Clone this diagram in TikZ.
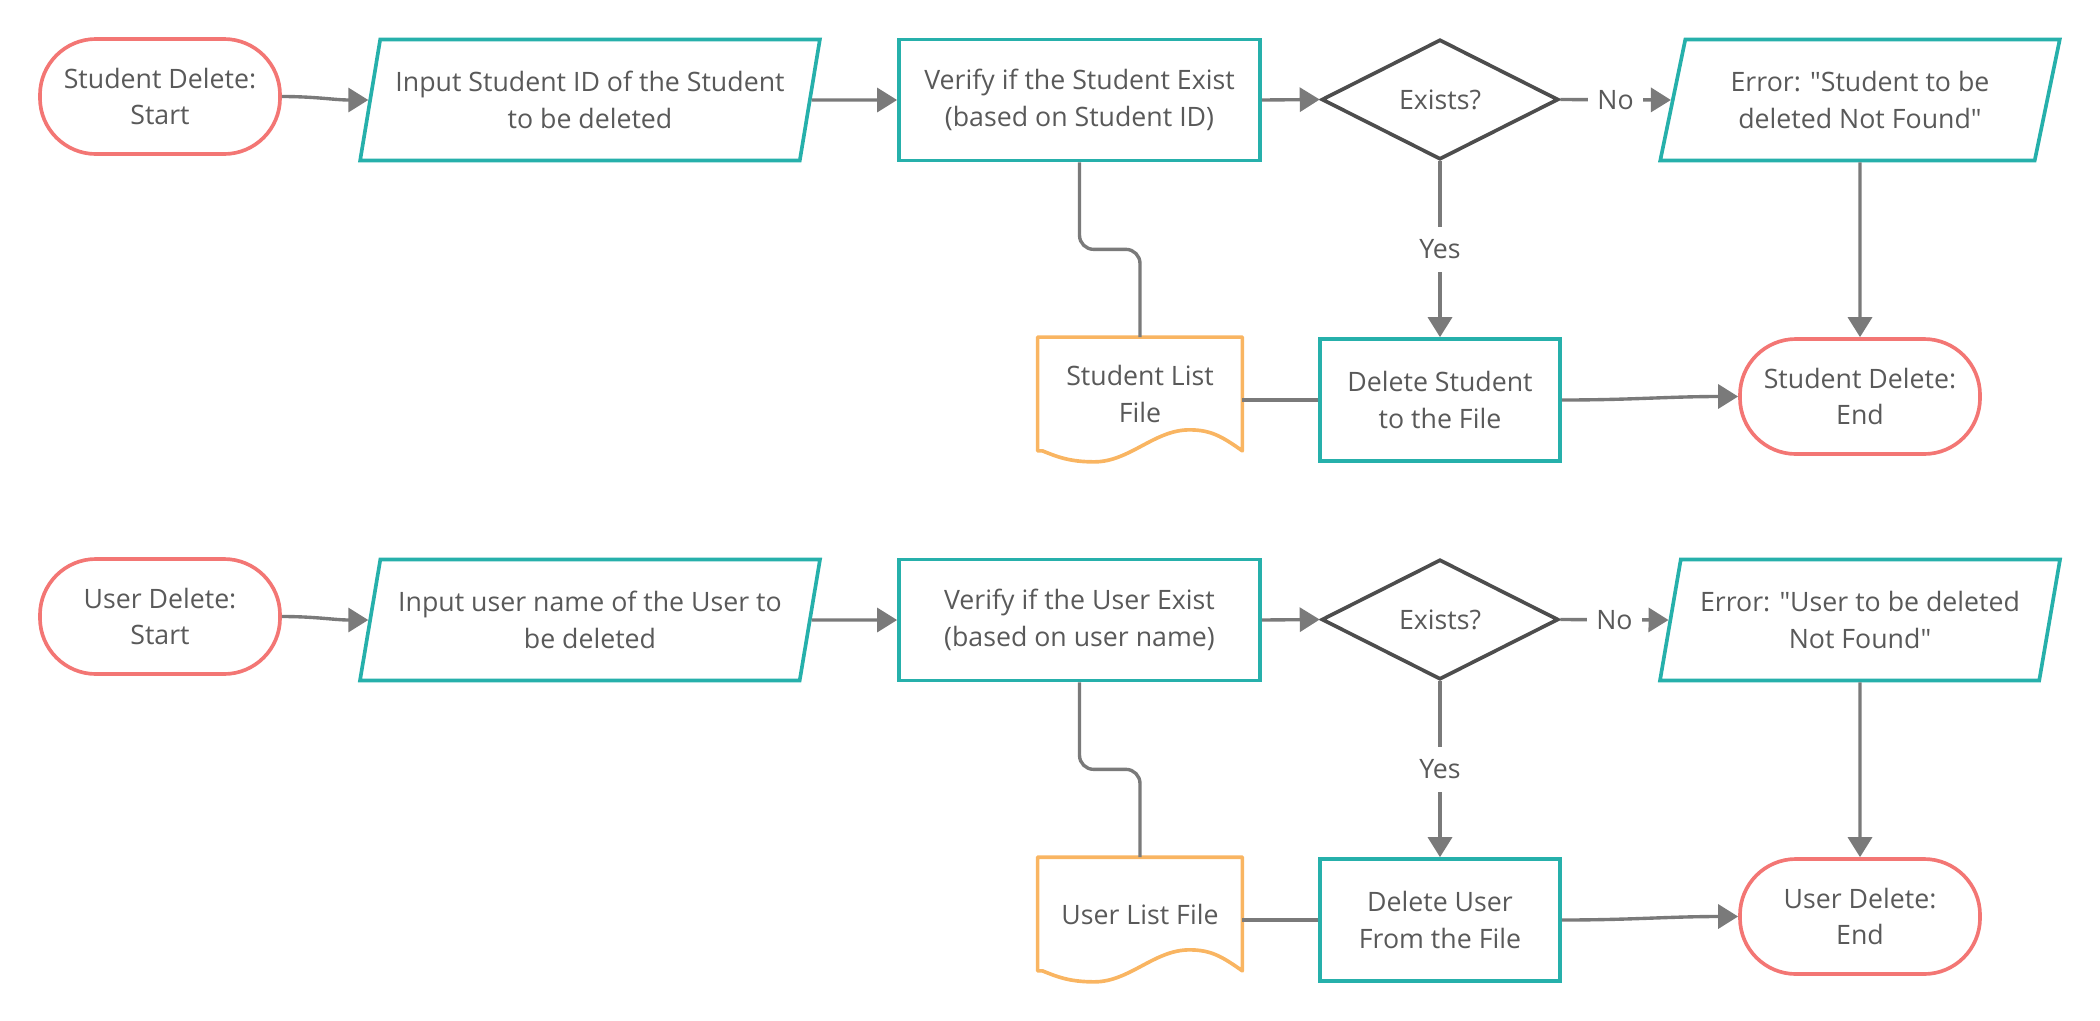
\documentclass[tikz,border=0pt]{standalone}
\usepackage{fontspec}
\setmainfont{Open Sans}[Ligatures=TeXOff]
\usetikzlibrary{shapes.geometric,arrows.meta}

\definecolor{boxteal}{HTML}{26B0AB}
\definecolor{termred}{HTML}{F37674}
\definecolor{docorange}{HTML}{F9B562}
\definecolor{diagray}{HTML}{4D4D4D}
\definecolor{linegray}{HTML}{7A7A7A}
\definecolor{textgray}{HTML}{595959}

\tikzset{
    base/.style={font=\fontsize{9.5}{13}\selectfont, text=textgray, align=center, line width=1.3pt, inner sep=0pt},
    term/.style={base, draw=termred, rectangle, rounded corners=0.7cm, minimum width=3cm, minimum height=1.4375cm},
    proc/.style={base, draw=boxteal, rectangle, minimum height=1.5125cm},
    io/.style={base, draw=boxteal, trapezium, trapezium left angle=72, trapezium right angle=108,
        trapezium stretches=true, minimum height=1.5125cm},
    decide/.style={base, draw=diagray, diamond, minimum width=2.96cm, minimum height=1.5cm},
    doc/.style={base, minimum width=2.5125cm, minimum height=1.375cm},
    docline/.style={draw=docorange, line width=1.3pt, line join=round},
    link/.style={draw=linegray, line width=1.2pt},
    flow/.style={link, -{Triangle[length=2.5mm,width=3mm]}},
    lbl/.style={font=\fontsize{9.5}{13}\selectfont, text=textgray, fill=white, inner xsep=1.2mm, inner ysep=1.6mm}
}

\begin{document}
\begin{tikzpicture}[x=0.0125cm, y=-0.0125cm]
    \useasboundingbox (0,0) rectangle (2100,1020);
    % Student delete nodes
    \node[term] (start1) at (160,96.5) {Student Delete:\\Start};
    \node[io, minimum width=5.75cm] (input1) at (590,100) {Input Student ID of the Student\\to be deleted};
    \node[proc, minimum width=4.5125cm] (verify1) at (1079.5,100) {Verify if the Student Exist\\(based on Student ID)};
    \node[decide] (exists1) at (1440,99.5) {Exists?};
    \node[io, minimum width=5cm] (error1) at (1860,100) {Error: "Student to be\\deleted Not Found"};
    \node[doc] (list1) at (1140,394) {Student List\\File};
    \node[proc, minimum width=3cm, minimum height=1.525cm] (delete1) at (1440,400) {Delete Student\\to the File};
    \node[term] (end1) at (1860,396.5) {Student Delete:\\End};
    \draw[docline] (list1.south west) -- (list1.north west) -- (list1.north east) -- (list1.south east)
        .. controls +(-20,-14) and +(22,0) .. ++(-53,-21)
        .. controls +(-35,0) and +(35,0) .. ++(-95,32)
        .. controls +(-25,0) and +(15,6) .. ++(-52,-11) -- cycle;
    % Student delete arrows
    \draw[flow] (start1.east) to[out=0, in=180] (input1.west);
    \draw[flow] (input1.east) -- (verify1.west);
    \draw[flow] (verify1.east) -- (exists1.west);
    \draw[flow] (exists1.east) -- (error1.west) node[midway, lbl] {No};
    \draw[flow] (exists1.south) -- (delete1.north) node[midway, lbl] {Yes};
    \draw[flow] (error1.south) -- (end1.north);
    \draw[flow] (delete1.east) to[out=0, in=180] (end1.west);
    \draw[link, rounded corners=5pt] (verify1.south) -- ++(0,87) -| (list1.north);
    \draw[link] (delete1.west) -- (delete1.west -| list1.east);

    % User delete nodes
    \node[term] (start2) at (160,616.5) {User Delete:\\Start};
    \node[io, minimum width=5.75cm] (input2) at (590,620) {Input user name of the User to\\be deleted};
    \node[proc, minimum width=4.5125cm] (verify2) at (1079.5,620) {Verify if the User Exist\\(based on user name)};
    \node[decide] (exists2) at (1440,619.5) {Exists?};
    \node[io, minimum width=5cm] (error2) at (1860,620) {Error: "User to be deleted\\Not Found"};
    \node[doc] (list2) at (1140,914) {User List File};
    \node[proc, minimum width=3cm, minimum height=1.525cm] (delete2) at (1440,920) {Delete User\\From the File};
    \node[term] (end2) at (1860,916.5) {User Delete:\\End};
    \draw[docline] (list2.south west) -- (list2.north west) -- (list2.north east) -- (list2.south east)
        .. controls +(-20,-14) and +(22,0) .. ++(-53,-21)
        .. controls +(-35,0) and +(35,0) .. ++(-95,32)
        .. controls +(-25,0) and +(15,6) .. ++(-52,-11) -- cycle;
    % User delete arrows
    \draw[flow] (start2.east) to[out=0, in=180] (input2.west);
    \draw[flow] (input2.east) -- (verify2.west);
    \draw[flow] (verify2.east) -- (exists2.west);
    \draw[flow] (exists2.east) -- (error2.west) node[midway, lbl] {No};
    \draw[flow] (exists2.south) -- (delete2.north) node[midway, lbl] {Yes};
    \draw[flow] (error2.south) -- (end2.north);
    \draw[flow] (delete2.east) to[out=0, in=180] (end2.west);
    \draw[link, rounded corners=5pt] (verify2.south) -- ++(0,87) -| (list2.north);
    \draw[link] (delete2.west) -- (delete2.west -| list2.east);
\end{tikzpicture}
\end{document}
